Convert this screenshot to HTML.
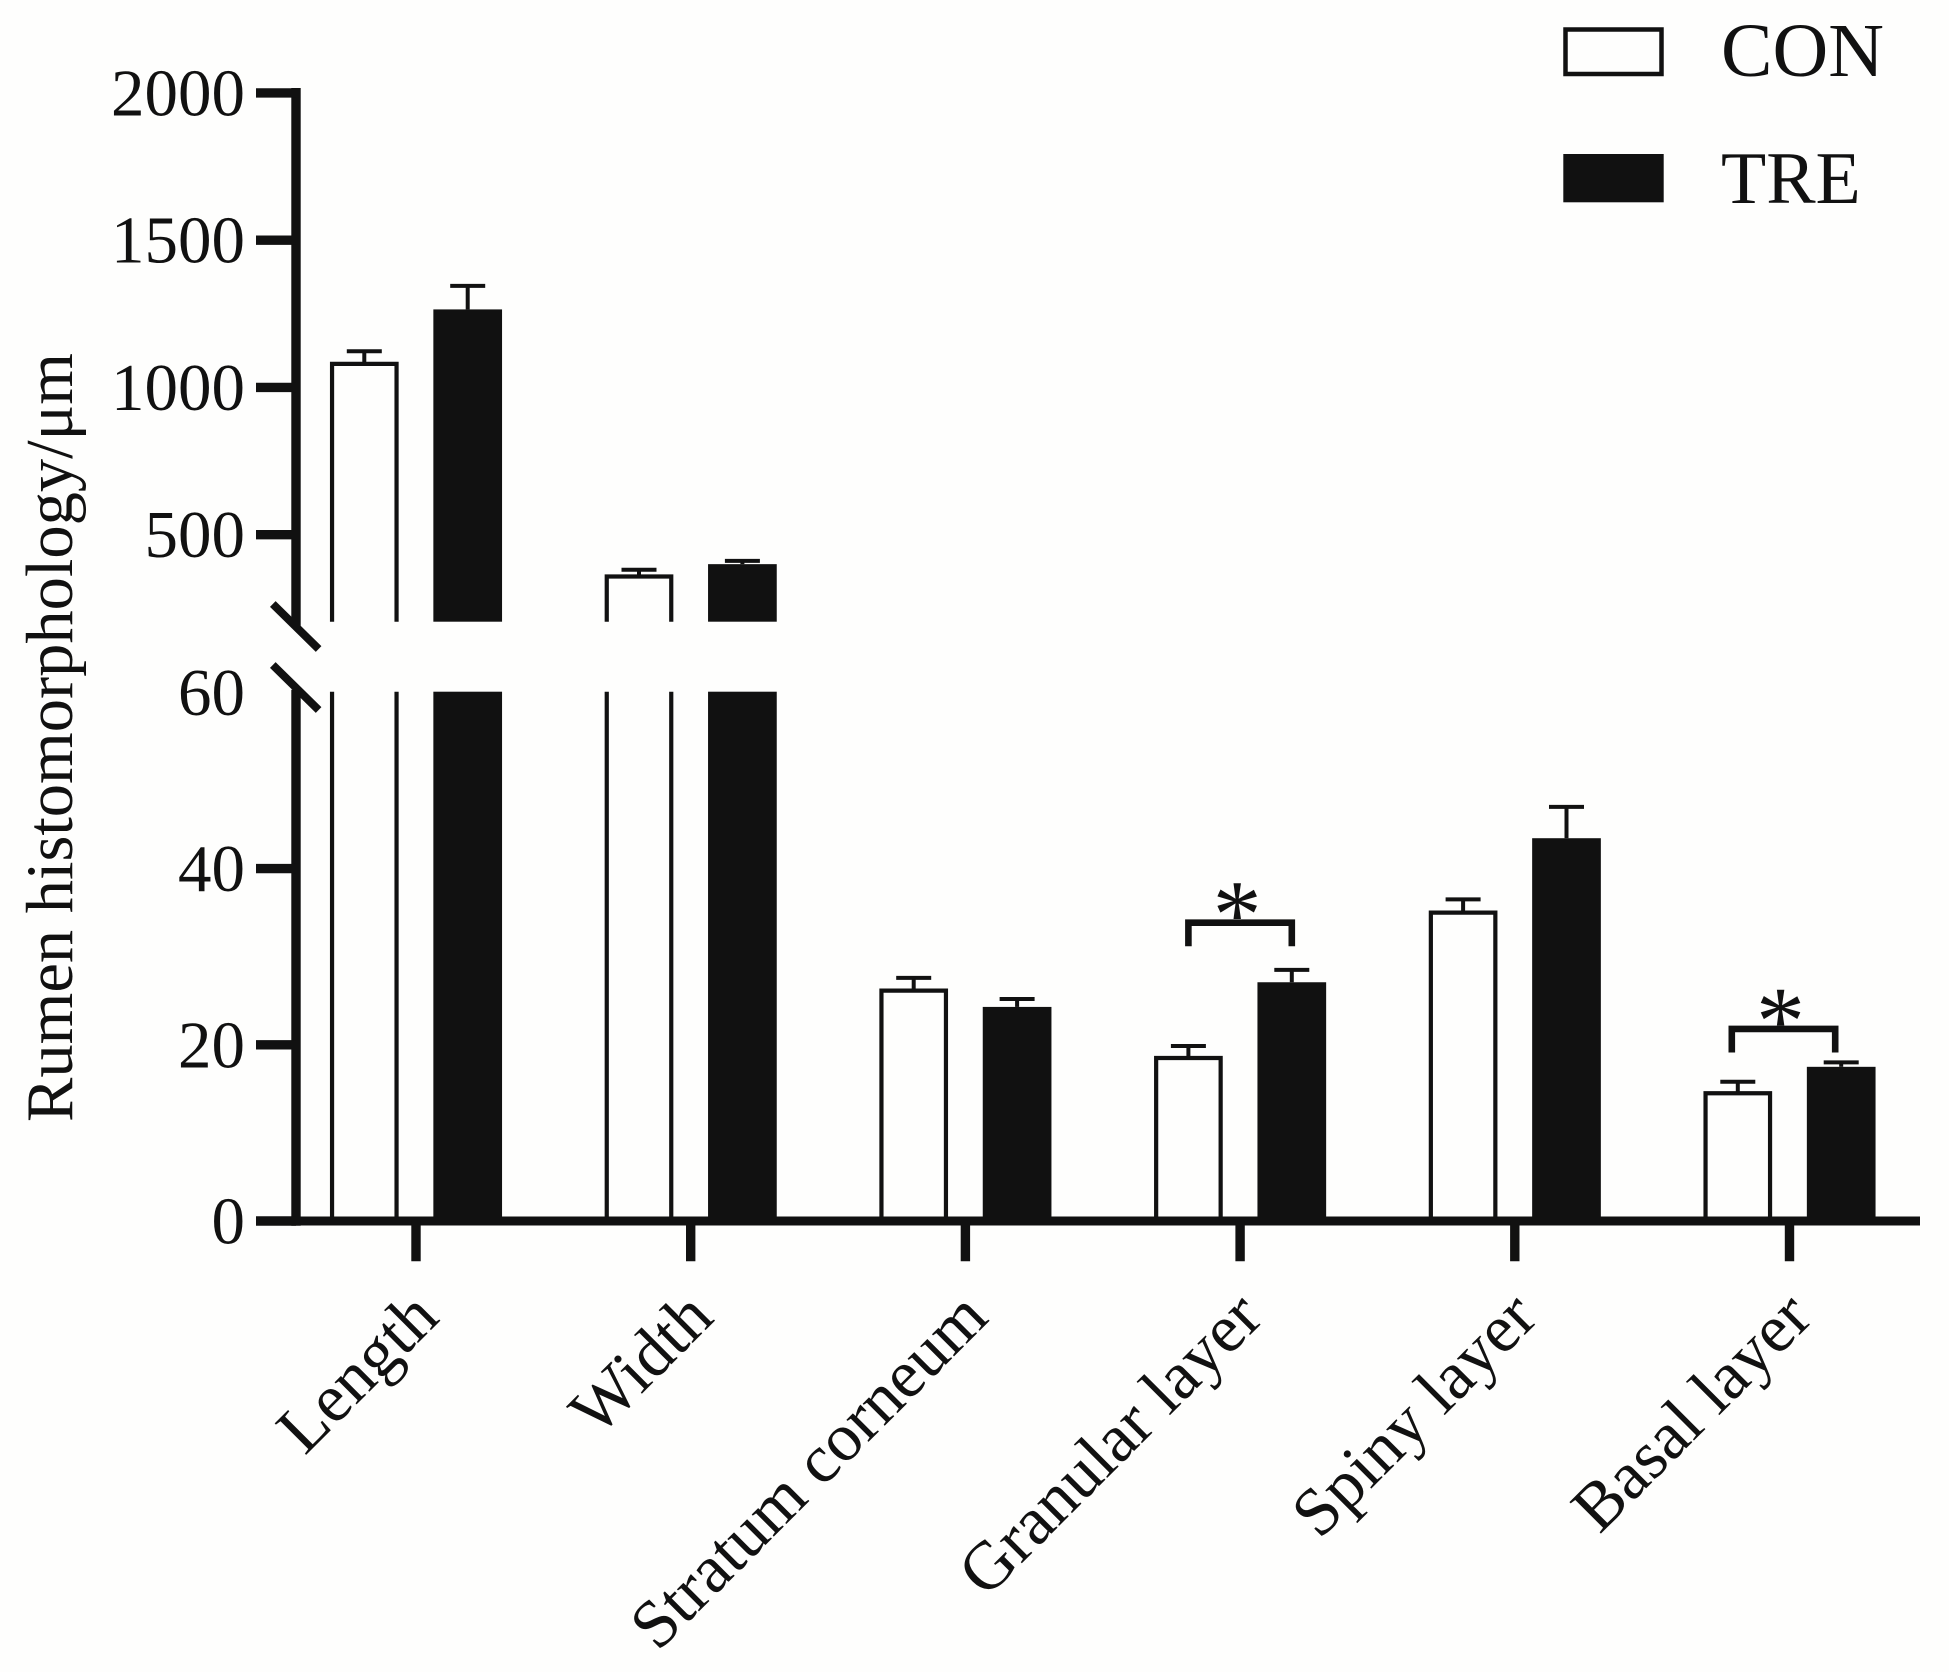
<!DOCTYPE html>
<html lang="en">
<head>
<meta charset="utf-8">
<title>Rumen histomorphology</title>
<style>
html,body{margin:0;padding:0;background:#fefefd;}
svg{display:block;}
text{font-family:"Liberation Serif",serif;fill:#111;}
</style>
</head>
<body>
<svg id="chart" xmlns="http://www.w3.org/2000/svg" width="1949" height="1672" viewBox="0 0 1949 1672">
  <rect x="0" y="0" width="1949" height="1672" fill="#fefefd"/>
  <text x="0" y="0" font-size="66.5" transform="translate(72 1122) rotate(-90)">Rumen histomorphology/μm</text>
  <g>
    <rect x="1565.5" y="29.5" width="96" height="44.5" fill="#fefefd" stroke="#111" stroke-width="4.5"/>
    <text x="1721" y="76" font-size="76" textLength="163" lengthAdjust="spacingAndGlyphs">CON</text>
    <rect x="1563.3" y="154" width="100.4" height="48.3" fill="#111"/>
    <text x="1721" y="203" font-size="74">TRE</text>
  </g>
</svg>
<script>
const categories = ["Length", "Width", "Stratum corneum", "Granular layer", "Spiny layer", "Basal layer"];
const conValues = [1080, 358, 26.15, 18.5, 35, 14.5];
const conErrors = [43, 23, 1.45, 1.36, 1.5, 1.3];
const treValues = [1265, 400, 24.3, 27.1, 43.45, 17.5];
const treErrors = [80, 11, 0.9, 1.4, 3.55, 0.5];
const lowerTicks = [0, 20, 40, 60];
const upperTicks = [500, 1000, 1500, 2000];
const sigCategories = [3, 5];
const sigLevels = [33.86, 21.8];
const sigLabels = ["*", "*"];

const NS = "http://www.w3.org/2000/svg";
const svg = document.getElementById("chart");
const INK = "#111";
const BREAK_TOP = 621.7;
const BREAK_BOTTOM = 691.7;
const BASE_Y = 1221;

function yLower(v) { return BASE_Y - v * 8.81; }
function yUpper(v) { return 534.7 + (500 - v) * 0.2945; }
function yScale(v) { return v <= 60 ? yLower(v) : yUpper(v); }
function xBand(i) { return 416 + 274.7 * i; }
function xCon(i) { return xBand(i) - 51.7; }
function xTre(i) { return xBand(i) + 51.7; }

function mk(tag, attrs, parent) {
  const el = document.createElementNS(NS, tag);
  for (const k in attrs) el.setAttribute(k, attrs[k]);
  (parent || svg).appendChild(el);
  return el;
}
function slug(s) { return s.toLowerCase().replace(/\s+/g, "-"); }

const BAR_W = 68.7, SW = 4.2;

function drawErr(cx, top, errTop, parent) {
  const stem = mk("line", {x1: cx, x2: cx, y1: top, y2: errTop, stroke: INK, "stroke-width": 4}, parent);
  
  
  const cap = mk("line", {x1: cx - 17.5, x2: cx + 17.5, y1: errTop, y2: errTop, stroke: INK, "stroke-width": 4}, parent);
  
  
}

function drawOpenBar(cx, v, parent) {
  const half = BAR_W / 2 - SW / 2;
  const l = cx - half, r = cx + half;
  const top = yScale(v);
  if (v > 60) {
    const up = mk("path", {d: `M${l} ${BREAK_TOP}V${top}H${r}V${BREAK_TOP}`, fill: "#fefefd", stroke: INK, "stroke-width": SW}, parent);
    
    
    const low = mk("path", {d: `M${l} ${BREAK_BOTTOM}V${BASE_Y}M${r} ${BREAK_BOTTOM}V${BASE_Y}`, fill: "none", stroke: INK, "stroke-width": SW}, parent);
    
    
  } else {
    const b = mk("path", {d: `M${l} ${BASE_Y}V${top}H${r}V${BASE_Y}`, fill: "#fefefd", stroke: INK, "stroke-width": SW}, parent);
    
    
  }
}

function drawFilledBar(cx, v, parent) {
  const l = cx - BAR_W / 2;
  const top = yScale(v);
  if (v > 60) {
    const up = mk("rect", {x: l, y: top, width: BAR_W, height: BREAK_TOP - top, fill: INK}, parent);
    
    
    const low = mk("rect", {x: l, y: BREAK_BOTTOM, width: BAR_W, height: BASE_Y - BREAK_BOTTOM, fill: INK}, parent);
    
    
  } else {
    const b = mk("rect", {x: l, y: top, width: BAR_W, height: BASE_Y - top, fill: INK}, parent);
    
    
  }
}

categories.forEach(function (cat, i) {
  const g = mk("g", {});
  
  
  drawErr(xCon(i), yScale(conValues[i]), yScale(conValues[i] + conErrors[i]), g);
  drawOpenBar(xCon(i), conValues[i], g);
  drawErr(xTre(i), yScale(treValues[i]), yScale(treValues[i] + treErrors[i]), g);
  drawFilledBar(xTre(i), treValues[i], g);
});

/* y axis */
const AXIS_X = 296;
const axisUp = mk("line", {x1: AXIS_X, x2: AXIS_X, y1: yUpper(2000) - 5, y2: BREAK_TOP + 4, stroke: INK, "stroke-width": 9.4});


const axisLow = mk("line", {x1: AXIS_X, x2: AXIS_X, y1: BREAK_BOTTOM - 2, y2: BASE_Y + 4.7, stroke: INK, "stroke-width": 9.4});



function drawYTick(v, y) {
  if (v !== 60) {
    const t = mk("line", {x1: 256, x2: AXIS_X, y1: y, y2: y, stroke: INK, "stroke-width": 9.4});
    
    
  }
  const lab = mk("text", {x: 245, y: y + 22.5, "text-anchor": "end", "font-size": 67});
  
  
  lab.textContent = String(v);
}
lowerTicks.forEach(function (v) { drawYTick(v, yLower(v)); });
upperTicks.forEach(function (v) { drawYTick(v, yUpper(v)); });

/* axis break marks */
[BREAK_TOP - 17.7, BREAK_TOP + 43.3].forEach(function (y0, i) {
  const b = mk("line", {x1: 272.8, y1: y0, x2: 318.6, y2: y0 + 45, stroke: INK, "stroke-width": 8});
  
  
});

/* x axis */
const xAxis = mk("line", {x1: 256, x2: 1920, y1: BASE_Y, y2: BASE_Y, stroke: INK, "stroke-width": 9});



categories.forEach(function (cat, i) {
  const x = xBand(i);
  const t = mk("line", {x1: x, x2: x, y1: BASE_Y, y2: 1261.3, stroke: INK, "stroke-width": 9.4});
  
  
  const lab = mk("text", {"text-anchor": "end", "font-size": 68, transform: `translate(${x + 25} 1320) rotate(-45)`});
  
  
  lab.textContent = cat;
});

/* significance brackets */
sigCategories.forEach(function (c, k) {
  const shift = k === 1 ? -6 : 0;
  const xl = xCon(c) + shift, xr = xTre(c) + shift;
  const y = yLower(sigLevels[k]);
  const br = mk("path", {d: `M${xl} ${y + 23.5}V${y}H${xr}V${y + 23.5}`, fill: "none", stroke: INK, "stroke-width": 6.6});
  
  
  const st = mk("text", {x: (xl + xr) / 2 - 3, y: y + 24.5, "text-anchor": "middle", "font-size": 98});
  
  
  st.textContent = sigLabels[k];
});
</script>
</body>
</html>
